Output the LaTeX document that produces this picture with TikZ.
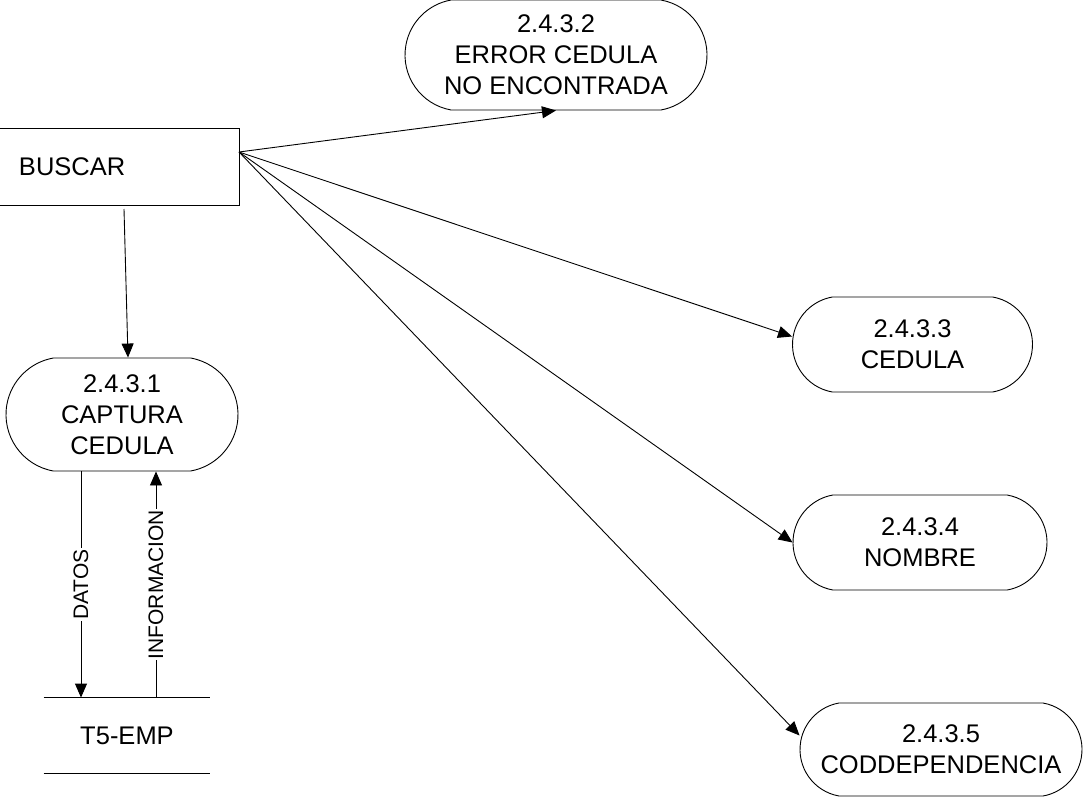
\documentclass[tikz,border=0pt]{standalone}
\usepackage{fontspec}
\setmainfont{Liberation Sans}
\usepackage{tikz}
\usetikzlibrary{arrows.meta,shapes.misc}

\tikzset{
  proc/.style={draw, rounded rectangle, rounded rectangle arc length=160,
    align=center, inner sep=0pt},
  flow/.style={-{Triangle[length=14pt,width=12pt]}},
  lbl/.style={fill=white, inner sep=1pt, rotate=90, font=\fontsize{21}{24}\selectfont}
}

\begin{document}
\begin{tikzpicture}[x=1pt, y=-1pt, line width=0.9pt,
  font=\fontsize{25.5}{31}\selectfont]
\useasboundingbox (0,0) rectangle (1084,797);

\node[draw, minimum width=241pt, minimum height=77pt, text width=199pt,
  inner xsep=21pt, align=left] (buscar) at (118.5,166.5) {BUSCAR};
\node[proc, minimum width=232pt, minimum height=113pt] (e1) at (122,414.5)
  {2.4.3.1\\CAPTURA\\CEDULA};
\node[proc, minimum width=302pt, minimum height=110pt] (e2) at (556,55)
  {2.4.3.2\\ERROR CEDULA\\NO ENCONTRADA};
\node[proc, minimum width=240pt, minimum height=95pt] (e3) at (912.5,344.5)
  {2.4.3.3\\CEDULA};
\node[proc, minimum width=254pt, minimum height=95pt] (e4) at (920,542.5)
  {2.4.3.4\\NOMBRE};
\node[proc, minimum width=282pt, minimum height=93pt] (e5) at (941,749.5)
  {2.4.3.5\\CODDEPENDENCIA};
\node[minimum width=166pt, minimum height=75pt, inner sep=0pt] (t5) at (127,735.5)
  {T5-EMP};

\coordinate (fan) at (239,152);
\coordinate (down) at (124,209);

\draw (t5.north west) -- (t5.north east);
\draw (t5.south west) -- (t5.south east);

\draw[flow] (down) -- ([xshift=6pt]e1.north);
\draw[flow] (fan) -- (e2.south);
\draw[flow] (fan) -- ([yshift=8pt]e3.west);
\draw[flow] (fan) -- ([yshift=0pt]e4.west);
\draw[flow] (fan) -- ([yshift=14pt]e5.west);

\draw[flow] (e1.south -| 81,0) -- (t5.north -| 81,0) node[midway, lbl] {DATOS};
\draw[flow] (t5.north -| 156,0) -- (e1.south -| 156,0) node[midway, lbl] {INFORMACION};
\end{tikzpicture}
\end{document}
